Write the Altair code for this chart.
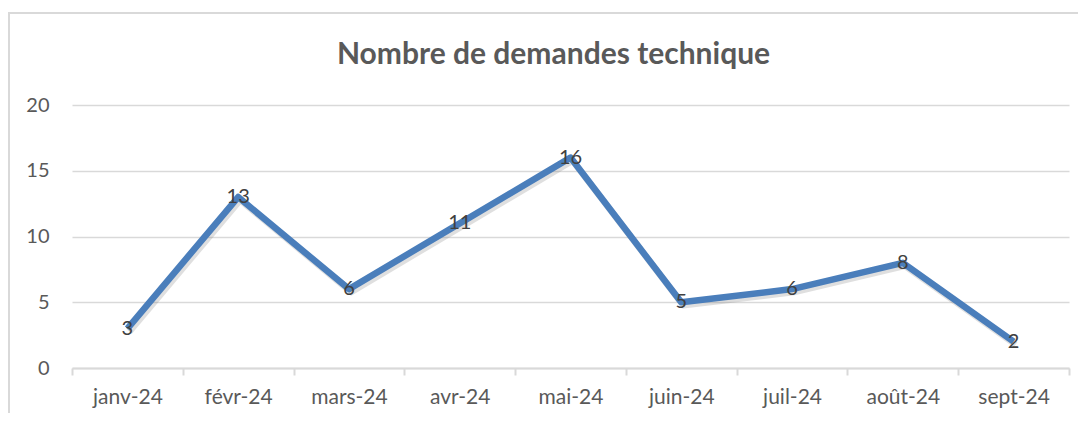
import altair as alt
import pandas as pd

months = ["janv-24", "févr-24", "mars-24", "avr-24", "mai-24", "juin-24", "juil-24", "août-24", "sept-24"]
values = [3, 13, 6, 11, 16, 5, 6, 8, 2]

df = pd.DataFrame({"mois": months, "demandes": values})

W, H = 997, 263
FONT = "Lato"

x = alt.X("mois:N", sort=months, title=None,
          scale=alt.Scale(paddingInner=0, paddingOuter=0),
          axis=alt.Axis(labelAngle=0, labelFont=FONT, labelFontSize=21, labelColor="#595959",
                        labelPadding=11, domainColor="#d9d9d9", domainWidth=2,
                        tickColor="#d9d9d9", tickWidth=2, tickSize=7, tickBand="extent",
                        grid=False))
y = alt.Y("demandes:Q", title=None,
          scale=alt.Scale(domain=[0, 20], nice=False),
          axis=alt.Axis(values=[0, 5, 10, 15, 20], labelFont=FONT, labelFontSize=20,
                        labelColor="#595959", labelPadding=23, domain=False, ticks=False,
                        gridColor="#d9d9d9", gridWidth=1.5))

base = alt.Chart(df)

shadow = base.mark_line(color="#7f7f7f", strokeWidth=6.5, opacity=0.25, xOffset=2, yOffset=3,
                        strokeJoin="round").encode(x=x, y=y)
line = base.mark_line(color="#4a7ebb", strokeWidth=6.5, strokeJoin="round").encode(x=x, y=y)
labels = base.mark_text(font=FONT, fontSize=20, color="#404040", align="center",
                        baseline="middle").encode(x=x, y=y, text="demandes:Q")

frame = alt.Chart(alt.Data(values=[{}])).mark_rect(fill=None, stroke="#d9d9d9", strokeWidth=2,
                                                   clip=False).encode(
    x=alt.value(-63), x2=alt.value(1020), y=alt.value(-92), y2=alt.value(320))

chart = alt.layer(frame, shadow, line, labels).properties(
    width=W, height=H,
    title=alt.TitleParams("Nombre de demandes technique", font=FONT, fontSize=30,
                          fontWeight="bold", color="#595959", anchor="middle", dx=-17, offset=-58),
    autosize=alt.AutoSizeParams(type="none"),
    padding={"left": 64, "top": 97, "right": 9, "bottom": 45},
).configure_view(stroke=None)

chart.save("out.html", embed_options={"renderer": "svg", "actions": False})
